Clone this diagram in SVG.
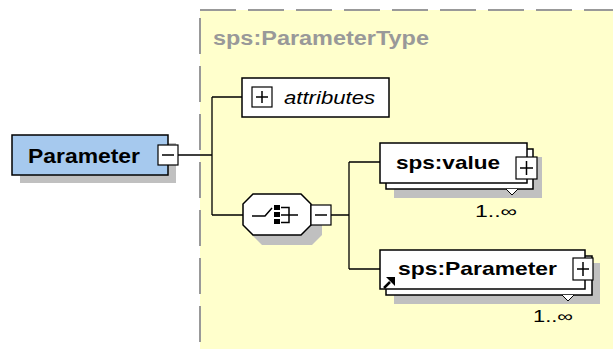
<svg xmlns="http://www.w3.org/2000/svg" width="613" height="349" viewBox="0 0 613 349">
<style>
.box{fill:#fff;stroke:#000;stroke-width:1.5}
.shadow{fill:#c0c0c0}
.btn{fill:#fff;stroke:#000;stroke-width:1.2}
.sym{stroke:#000;stroke-width:1.5;fill:none}
.conn{stroke:#000;stroke-width:1.3;fill:none}
.name{font-family:"Liberation Sans",Arial,sans-serif;font-weight:bold;font-size:19px;fill:#000}
.occ{font-family:"Liberation Sans",Arial,sans-serif;font-size:16px;fill:#000}
</style>
<rect width="613" height="349" fill="#fff"/>
<g id="type-panel">
<rect x="200" y="10" width="430" height="360" fill="#ffffcc" stroke="#999" stroke-width="2" stroke-dasharray="36 12"/>
<text x="213" y="45" font-family="Liberation Sans,Arial,sans-serif" font-weight="bold" font-size="20" fill="#999" textLength="216" lengthAdjust="spacingAndGlyphs">sps:ParameterType</text>
</g>
<g id="connectors">
<path class="conn" d="M178 155H212M212 97V215M212 97H243M212 215H243M331 215H349M349 162V269M349 162H380M349 269H380"/>
</g>
<g id="parameter">
<rect class="shadow" x="20" y="143" width="156" height="40"/>
<rect x="12" y="135" width="156" height="40" fill="#a6c9ee" stroke="#000" stroke-width="1.5"/>
<text x="28" y="163" font-family="Liberation Sans,Arial,sans-serif" font-weight="bold" font-size="21" textLength="112" lengthAdjust="spacingAndGlyphs">Parameter</text>
<rect class="btn" x="158" y="145" width="20" height="20"/>
<path class="sym" d="M162 155H174"/>
</g>
<g id="attributes">
<rect class="box" x="242" y="78" width="147" height="39"/>
<rect class="btn" x="252" y="87" width="20" height="20"/>
<path class="sym" d="M256 97H268M262 91V103"/>
<text x="284" y="104" font-family="Liberation Sans,Arial,sans-serif" font-style="italic" font-size="18" textLength="91" lengthAdjust="spacingAndGlyphs">attributes</text>
</g>
<g id="sequence">
<path class="shadow" d="M262 204H312L322 214V235L312 245H262L252 235V214Z"/>
<path d="M253 194H301L311 204V225L301 235H253L243 225V204Z" fill="#fff" stroke="#000" stroke-width="1.5"/>
<path class="sym" d="M252 216H265L272 208"/>
<rect x="274" y="205" width="6" height="5" fill="#000"/>
<rect x="274" y="212" width="6" height="5" fill="#000"/>
<rect x="274" y="219" width="6" height="5" fill="#000"/>
<path class="sym" d="M281 207.5H289V222.5H281M281 215H298"/>
<rect class="btn" x="311" y="205" width="20" height="20"/>
<path class="sym" d="M315 215H327"/>
</g>
<g id="value">
<rect class="shadow" x="394" y="157" width="148" height="41"/>
<rect class="box" x="386" y="149" width="147" height="40"/>
<rect class="box" x="380" y="143" width="147" height="40"/>
<path d="M506 189L512 195L518 189" fill="#fff" stroke="#000" stroke-width="1"/>
<text class="name" x="396" y="169" textLength="104" lengthAdjust="spacingAndGlyphs">sps:value</text>
<rect class="btn" x="516" y="157" width="21" height="22"/>
<path class="sym" d="M520 168H533M526.5 161V175"/>
<text class="occ" x="475" y="217" textLength="42" lengthAdjust="spacingAndGlyphs">1..∞</text>
</g>
<g id="sps-parameter">
<rect class="shadow" x="394" y="263" width="206" height="41"/>
<rect class="box" x="386" y="256" width="206" height="39"/>
<rect class="box" x="380" y="250" width="205" height="39"/>
<path d="M562 295L568 301L574 295" fill="#fff" stroke="#000" stroke-width="1"/>
<text class="name" x="398" y="275" textLength="159" lengthAdjust="spacingAndGlyphs">sps:Parameter</text>
<rect class="btn" x="573" y="258" width="20" height="22"/>
<path class="sym" d="M577 269H589M583 262V276"/>
<path d="M384 288L390 282" stroke="#000" stroke-width="2.5"/>
<path d="M386 277H395V286Z" fill="#000"/>
<text class="occ" x="533" y="322" textLength="40" lengthAdjust="spacingAndGlyphs">1..∞</text>
</g>
</svg>
